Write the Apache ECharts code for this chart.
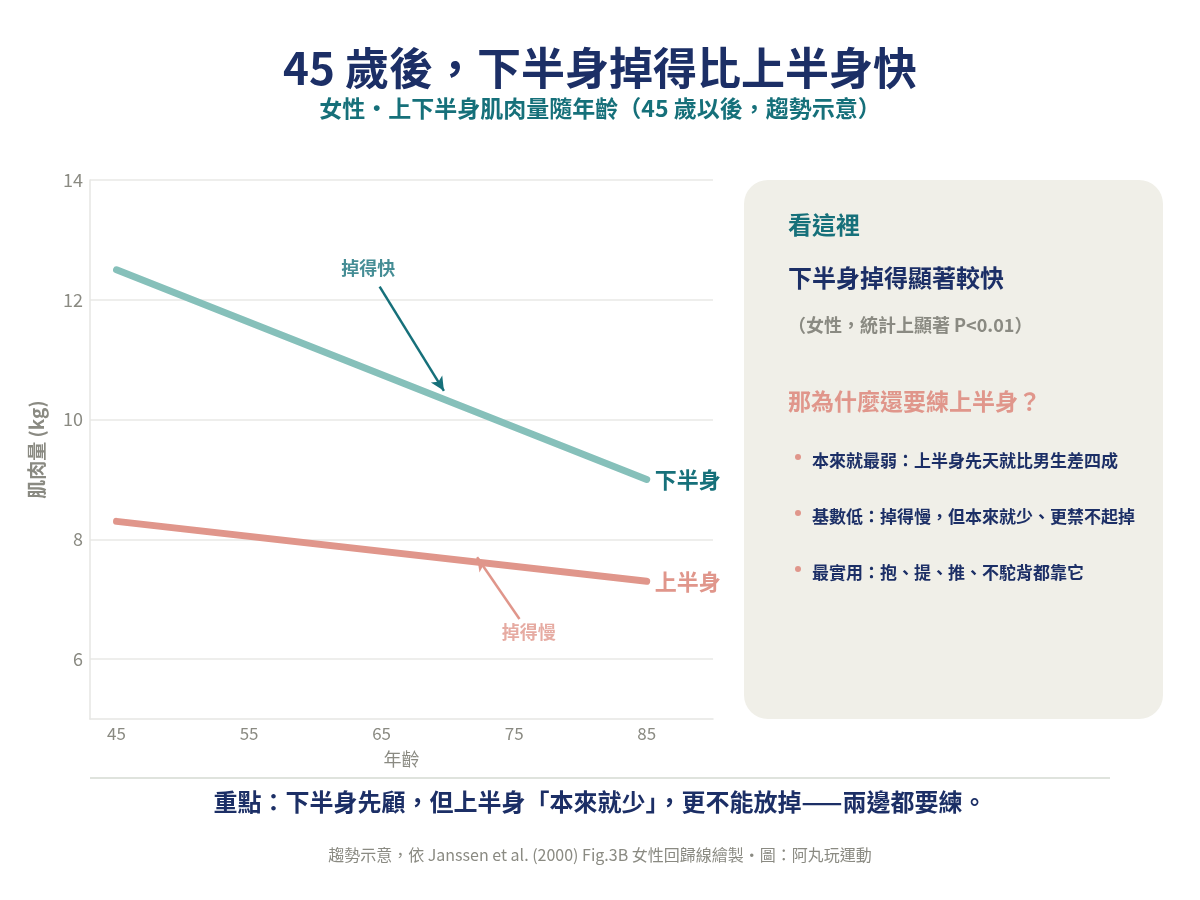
<!DOCTYPE html>
<html><head><meta charset="utf-8">
<script src="https://cdn.jsdelivr.net/npm/echarts@6/dist/echarts.min.js"></script>
<style>html,body{margin:0;padding:0;background:#fff}#c{width:1200px;height:900px}</style>
</head><body><div id="c"></div>
<script>
const ages = [45, 85];
const lowerBody = [12.5, 9.0];
const upperBody = [8.3, 7.3];
const xTicks = [45, 55, 65, 75, 85];
const yTicks = [6, 8, 10, 12, 14];
const fastArrow = [[64.85, 12.22], [69.7, 10.48]];
const slowArrow = [[75.4, 6.67], [72.2, 7.7]];
const fastLabelPos = [64.0, 12.53];
const slowLabelPos = [76.1, 6.45];

const FONT = '"Noto Sans CJK TC", "Noto Sans", sans-serif';
const NAVY = '#1c2f66', TEAL = '#16707a', TEAL_LINE = '#86c0ba', SALMON = '#e0968b', GRAY = '#8a8a82';

const chart = echarts.init(document.getElementById('c'));
chart.setOption({
  backgroundColor: '#fff',
  textStyle: { fontFamily: FONT },
  grid: { left: 90, right: 487, top: 180, bottom: 181 },
  xAxis: {
    type: 'value', min: 43, max: 90,
    name: '年齡', nameLocation: 'middle', nameGap: 31,
    nameTextStyle: { fontSize: 18, color: GRAY, fontFamily: FONT },
    axisLine: { show: true, lineStyle: { color: '#e6e6e3', width: 1.5 } },
    axisTick: { show: false, customValues: xTicks },
    splitLine: { show: false },
    axisLabel: { customValues: xTicks, fontSize: 17, color: GRAY, margin: 6 }
  },
  yAxis: {
    type: 'value', min: 5, max: 14,
    name: '肌肉量 (kg)', nameLocation: 'middle', nameGap: 44,
    nameTextStyle: { fontSize: 19, color: GRAY, fontFamily: FONT, fontWeight: 'bold' },
    axisLine: { show: true, lineStyle: { color: '#e6e6e3', width: 1.5 } },
    axisTick: { show: false, customValues: yTicks },
    splitLine: { show: true, lineStyle: { color: '#e8e8e6', width: 1.5 } },
    axisLabel: { customValues: yTicks, fontSize: 18, color: GRAY, margin: 7 }
  },
  series: [
    { name: '下半身', type: 'line', data: ages.map((a, i) => [a, lowerBody[i]]),
      symbol: 'none', lineStyle: { color: TEAL_LINE, width: 7, cap: 'round' },
      endLabel: { show: true, formatter: '下半身', distance: 8, fontSize: 22, fontWeight: 'bold', color: TEAL, fontFamily: FONT },
      markLine: { silent: true, symbol: ['none', 'arrow'], symbolSize: [10, 14],
        lineStyle: { color: TEAL, width: 2.5, type: 'solid' }, label: { show: false },
        data: [[{ coord: fastArrow[0] }, { coord: fastArrow[1] }]] },
      z: 3 },
    { name: '上半身', type: 'line', data: ages.map((a, i) => [a, upperBody[i]]),
      symbol: 'none', lineStyle: { color: SALMON, width: 7, cap: 'round' },
      endLabel: { show: true, formatter: '上半身', distance: 8, fontSize: 22, fontWeight: 'bold', color: SALMON, fontFamily: FONT },
      markLine: { silent: true, symbol: ['none', 'arrow'], symbolSize: [10, 14],
        lineStyle: { color: SALMON, width: 2.5, type: 'solid' }, label: { show: false },
        data: [[{ coord: slowArrow[0] }, { coord: slowArrow[1] }]] },
      z: 3 },
    { type: 'scatter', symbolSize: 0, silent: true,
      data: [
        { value: fastLabelPos, label: { show: true, position: 'inside', formatter: '掉得快', fontSize: 18, fontWeight: 'bold', color: TEAL, fontFamily: FONT } },
        { value: slowLabelPos, label: { show: true, position: 'inside', formatter: '掉得慢', fontSize: 18, fontWeight: 'bold', color: SALMON, fontFamily: FONT } }
      ] }
  ],
  graphic: [
    { type: 'text', x: 600, y: 68, style: { text: '45 歲後，下半身掉得比上半身快', font: 'bold 44px ' + FONT, fill: NAVY, align: 'center', verticalAlign: 'middle' } },
    { type: 'text', x: 600, y: 108, style: { text: '女性・上下半身肌肉量隨年齡（45 歲以後，趨勢示意）', font: 'bold 23px ' + FONT, fill: TEAL, align: 'center', verticalAlign: 'middle' } },
    { type: 'rect', shape: { x: 744, y: 180, width: 419, height: 539, r: 24 }, style: { fill: '#f0efe8' }, z: -1 },
    { type: 'text', x: 788, y: 225, style: { text: '看這裡', font: 'bold 24px ' + FONT, fill: TEAL, verticalAlign: 'middle' } },
    { type: 'text', x: 788, y: 278, style: { text: '下半身掉得顯著較快', font: 'bold 24px ' + FONT, fill: NAVY, verticalAlign: 'middle' } },
    { type: 'text', x: 788, y: 325, style: { text: '（女性，統計上顯著 P<0.01）', font: 'bold 18px ' + FONT, fill: GRAY, verticalAlign: 'middle' } },
    { type: 'text', x: 788, y: 401, style: { text: '那為什麼還要練上半身？', font: 'bold 23px ' + FONT, fill: SALMON, verticalAlign: 'middle' } },
    { type: 'circle', shape: { cx: 798, cy: 457, r: 3 }, style: { fill: SALMON } },
    { type: 'text', x: 812, y: 461, style: { text: '本來就最弱：上半身先天就比男生差四成', font: 'bold 17px ' + FONT, fill: NAVY, verticalAlign: 'middle' } },
    { type: 'circle', shape: { cx: 798, cy: 513, r: 3 }, style: { fill: SALMON } },
    { type: 'text', x: 812, y: 517, style: { text: '基數低：掉得慢，但本來就少、更禁不起掉', font: 'bold 17px ' + FONT, fill: NAVY, verticalAlign: 'middle' } },
    { type: 'circle', shape: { cx: 798, cy: 569, r: 3 }, style: { fill: SALMON } },
    { type: 'text', x: 812, y: 573, style: { text: '最實用：抱、提、推、不駝背都靠它', font: 'bold 17px ' + FONT, fill: NAVY, verticalAlign: 'middle' } },
    { type: 'line', shape: { x1: 90, y1: 778, x2: 1110, y2: 778 }, style: { stroke: '#dfe3dd', lineWidth: 2 } },
    { type: 'text', x: 600, y: 802, style: { text: '重點：下半身先顧，但上半身「本來就少」，更不能放掉——兩邊都要練。', font: 'bold 24px ' + FONT, fill: NAVY, align: 'center', verticalAlign: 'middle' } },
    { type: 'text', x: 600, y: 855, style: { text: '趨勢示意，依 Janssen et al. (2000) Fig.3B 女性回歸線繪製・圖：阿丸玩運動', font: '16px ' + FONT, fill: GRAY, align: 'center', verticalAlign: 'middle' } }
  ]
});
</script></body></html>
